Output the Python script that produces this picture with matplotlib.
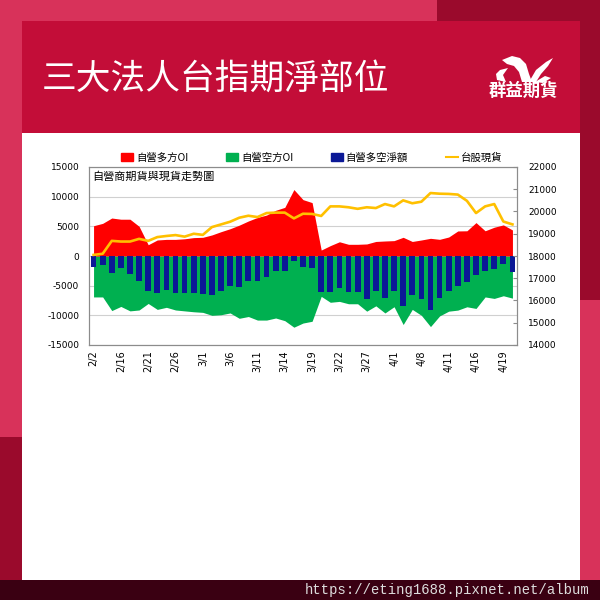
import matplotlib
matplotlib.use('Agg')
import matplotlib.pyplot as plt
from matplotlib.patches import Rectangle, Polygon, Patch
from matplotlib.lines import Line2D
import numpy as np

plt.rcParams['font.family'] = ['Noto Sans CJK TC', 'DejaVu Sans']

# ---------------- data ----------------
dates = ['2/2', '2/5', '2/15', '2/16', '2/19', '2/20', '2/21', '2/22', '2/23', '2/26',
         '2/27', '2/29', '3/1', '3/4', '3/5', '3/6', '3/7', '3/8', '3/11', '3/12',
         '3/13', '3/14', '3/15', '3/18', '3/19', '3/20', '3/21', '3/22', '3/25', '3/26',
         '3/27', '3/28', '3/29', '4/1', '4/2', '4/3', '4/8', '4/9', '4/10', '4/11',
         '4/12', '4/15', '4/16', '4/17', '4/18', '4/19', '4/22']

long_oi = [5100, 5500, 6400, 6200, 6200, 5000, 1900, 2700, 2800, 2800,
           2900, 3100, 3150, 3550, 4100, 4600, 5200, 5900, 6500, 6900,
           7700, 8200, 11200, 9500, 9000, 1000, 1750, 2400, 1970, 1970,
           2030, 2450, 2530, 2590, 3150, 2450, 2700, 2980, 2810, 3200,
           4220, 4250, 5630, 4250, 4850, 5240, 4390]

short_oi = [-6900, -6900, -9200, -8500, -9250, -9100, -8000, -9000, -8650, -9100,
            -9250, -9400, -9500, -10000, -9900, -9600, -10500, -10200, -10800, -10800,
            -10450, -10900, -12000, -11300, -11000, -6800, -7800, -7650, -8050, -8050,
            -9300, -8400, -9600, -8550, -11550, -9000, -10000, -11900, -10100, -9300,
            -9120, -8560, -8840, -6900, -7150, -6700, -7100]

net_oi = [-1900, -1500, -2800, -2100, -3050, -4150, -5950, -6250, -5800, -6300,
          -6300, -6300, -6350, -6550, -5900, -5050, -5300, -4200, -4200, -3600,
          -2500, -2450, -850, -1850, -2000, -6100, -6150, -5400, -6150, -6150,
          -7300, -5900, -7100, -5900, -8500, -6600, -7300, -9100, -7100, -5900,
          -5000, -4330, -3210, -2600, -2250, -1400, -2700]

taiex = [18050, 18100, 18680, 18650, 18650, 18770, 18680, 18850, 18900, 18940,
         18870, 19000, 18950, 19300, 19420, 19540, 19720, 19810, 19750, 19930,
         19950, 19950, 19690, 19900, 19890, 19800, 20230, 20230, 20190, 20120,
         20190, 20155, 20335, 20230, 20500, 20370, 20440, 20830, 20800, 20790,
         20760, 20480, 19930, 20230, 20335, 19550, 19420]

left_ticks = [-15000, -10000, -5000, 0, 5000, 10000, 15000]
right_ticks = [14000, 15000, 16000, 17000, 18000, 19000, 20000, 21000, 22000]
series_names = ['自營多方OI', '自營空方OI', '自營多空淨額', '台股現貨']
title = '三大法人台指期淨部位'
chart_title = '自營商期貨與現貨走勢圖'
brand = '群益期貨'
url = 'https://eting1688.pixnet.net/album'

# ---------------- colours ----------------
PINK = '#D8325A'
DARK = '#9A0A2C'
HEADER = '#C30D38'
FOOTER = '#3A0012'
RED = '#FF0000'
GREEN = '#00B050'
BLUE = '#0B1896'
GOLD = '#FFC000'

W = H = 600
fig = plt.figure(figsize=(6, 6), dpi=100, facecolor=PINK)


def prect(x0, y0, x1, y1, color, z=0):
    r = Rectangle((x0 / W, 1 - y1 / H), (x1 - x0) / W, (y1 - y0) / H,
                  transform=fig.transFigure, facecolor=color, edgecolor='none', zorder=z)
    fig.patches.append(r)


# background blocks
prect(437, 0, 600, 300, DARK)
prect(0, 437, 22, 580, DARK)
prect(22, 21, 580, 133, HEADER, 1)
prect(22, 133, 580, 580, 'white', 1)
prect(0, 580, 600, 600, FOOTER, 2)

fig.text(42 / W, 1 - 79 / H, title, color='white', fontsize=25,
         ha='left', va='center', zorder=5)
fig.text(590 / W, 1 - 590 / H, url, color='#DDDDDD', fontsize=10,
         family=['Liberation Mono', 'DejaVu Sans Mono'], ha='right', va='center', zorder=5)

# logo
fig.text(523 / W, 1 - 91 / H, brand, color='white', fontsize=12.5, fontweight='bold',
         ha='center', va='center', zorder=5)


def ppoly(pts, color='white', z=5):
    p = Polygon([(x / W, 1 - y / H) for x, y in pts], closed=True,
                transform=fig.transFigure, facecolor=color, edgecolor='none', zorder=z)
    fig.patches.append(p)


# stylised bird
ppoly([(502, 60), (512, 56), (520, 58), (526, 64), (529, 74), (532, 82), (522, 82),
       (519, 72), (514, 66), (507, 64)])
ppoly([(529, 82), (536, 70), (546, 62), (553, 58), (548, 66), (541, 74), (536, 82)])
ppoly([(500, 70), (508, 68), (503, 75), (506, 82), (497, 80), (496, 74)])
ppoly([(535, 82), (545, 76), (551, 78), (543, 83)])

# ---------------- chart ----------------
ax = fig.add_axes([89 / W, 1 - 345 / H, 428 / W, 178 / H], zorder=10)
ax.set_facecolor('white')
x = np.arange(len(dates))

ax.fill_between(x, 0, short_oi, color=GREEN, linewidth=0, zorder=2, label=series_names[1])
ax.fill_between(x, 0, long_oi, color=RED, linewidth=0, zorder=2, label=series_names[0])
ax.bar(x, net_oi, width=0.63, color=BLUE, zorder=3, label=series_names[2])

ax.set_xlim(-0.5, len(dates) - 0.5)
ax.set_ylim(-15000, 15000)
ax.set_yticks(left_ticks)
ax.set_yticklabels([str(v) for v in left_ticks], family='DejaVu Sans', fontsize=6.5)
ax.set_xticks(x[::3])
ax.set_xticklabels(dates[::3], rotation=90, family='DejaVu Sans', fontsize=7)
ax.tick_params(axis='both', length=0, pad=7)
ax.tick_params(axis='x', pad=4)
ax.grid(axis='y', color='#D0D0D0', linewidth=0.8, zorder=0)
ax.set_axisbelow(True)
for s in ax.spines.values():
    s.set_color('#8C8C8C')
    s.set_linewidth(0.8)

ax.text(0.007, 0.975, chart_title, transform=ax.transAxes, fontsize=8,
        ha='left', va='top', zorder=6)

ax2 = ax.twinx()
ax2.plot(x, taiex, color=GOLD, linewidth=1.9, zorder=5, label=series_names[3])
ax2.set_ylim(14000, 22000)
ax2.set_yticks(right_ticks)
ax2.set_yticklabels([str(v) for v in right_ticks], family='DejaVu Sans', fontsize=6.5)
ax2.tick_params(axis='y', direction='in', length=3, color='#8C8C8C', pad=8)
for s in ax2.spines.values():
    s.set_color('#8C8C8C')
    s.set_linewidth(0.8)

handles = [Patch(color=RED), Patch(color=GREEN), Patch(color=BLUE),
           Line2D([0], [0], color=GOLD, linewidth=1.5)]
leg = ax.legend(handles, series_names, loc='lower center', ncol=4,
                bbox_to_anchor=(0.52, 0.995), frameon=False, fontsize=7.5,
                handlelength=1.2, handleheight=0.7, handletextpad=0.25,
                columnspacing=3.6, borderaxespad=0.1)

fig.savefig('out.png', dpi=100, facecolor=PINK)
